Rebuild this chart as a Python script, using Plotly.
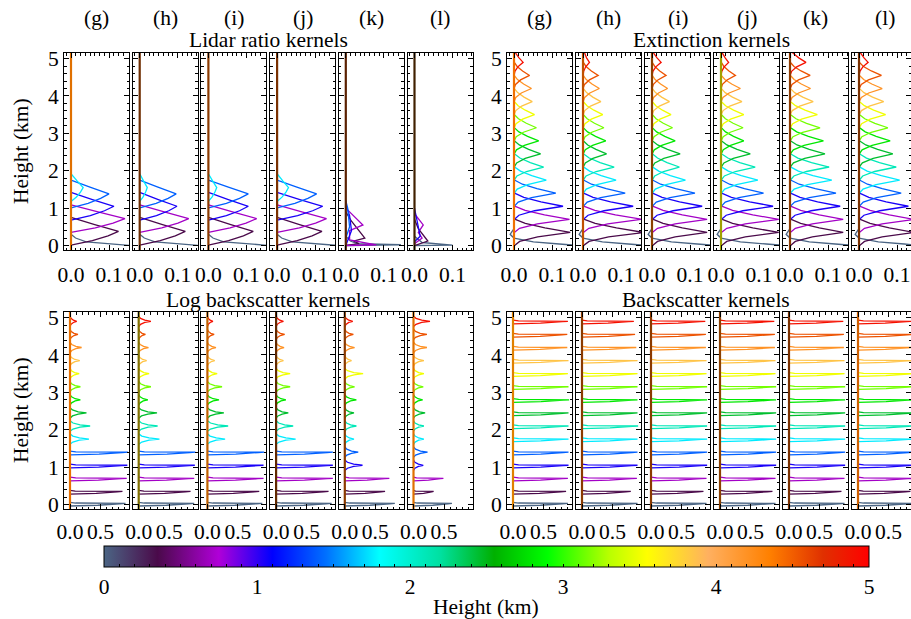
import plotly.graph_objects as go
from plotly.colors import sample_colorscale

# ---------------- data ----------------
HEIGHTS = [0.0, 0.35, 0.7, 1.05, 1.4, 1.75, 2.1, 2.45, 2.8, 3.15, 3.5, 3.85, 4.2, 4.55, 4.9]
PANEL_LABELS = ["(g)", "(h)", "(i)", "(j)", "(k)", "(l)"]
GROUP_TITLES = ["Lidar ratio kernels", "Extinction kernels",
                "Log backscatter kernels", "Backscatter kernels"]
Y_TICKS = [0, 1, 2, 3, 4, 5]
CB_TICKS = [0, 1, 2, 3, 4, 5]

COLORSCALE = [
    [0.00, "#4b6584"], [0.07, "#4a0a4a"], [0.15, "#b000d8"], [0.22, "#0000ff"],
    [0.29, "#0070ff"], [0.36, "#00ffff"], [0.44, "#00e0a0"], [0.51, "#00b000"],
    [0.58, "#00ff00"], [0.66, "#b8ff00"], [0.71, "#ffff00"], [0.79, "#ffb060"],
    [0.87, "#ff8000"], [0.94, "#e03000"], [1.00, "#ff0000"],
]

# Lidar ratio kernels: peak values (only the lowest kernels are non-zero)
LIDAR_PEAK_H = [0.0, 0.38, 0.72, 1.05, 1.38, 1.55]
LIDAR_PEAKS = {
    "(g)": [0.16, 0.125, 0.142, 0.113, 0.100, 0.032],
    "(h)": [0.16, 0.120, 0.129, 0.098, 0.096, 0.020],
    "(i)": [0.16, 0.118, 0.127, 0.105, 0.105, 0.022],
    "(j)": [0.16, 0.118, 0.130, 0.120, 0.104, 0.030],
}
# (k) and (l) lidar ratio kernels read as polylines: (kernel index, values, heights)
LIDAR_K_CURVES = [
    (0, [0.0, 0.012, 0.03, 0.145, 0.0], [0.25, 0.12, 0.05, 0.02, 0.0]),
    (1, [0.0, 0.015, 0.05, 0.02, 0.035, 0.0], [0.9, 0.65, 0.2, 0.12, 0.05, 0.0]),
    (2, [0.0, 0.02, 0.045, 0.01, 0.01, 0.08, 0.0], [1.0, 0.8, 0.55, 0.4, 0.15, 0.02, 0.0]),
    (3, [0.0, 0.01, 0.015, 0.005, 0.0], [1.1, 0.8, 0.4, 0.1, 0.0]),
    (4, [0.0, 0.005, 0.01, 0.0], [1.2, 1.0, 0.5, 0.2]),
]
LIDAR_L_CURVES = [
    (0, [0.0, 0.02, 0.1, 0.0], [0.25, 0.08, 0.01, 0.0]),
    (1, [0.0, 0.01, 0.035, 0.005, 0.0], [0.7, 0.45, 0.12, 0.02, 0.0]),
    (2, [0.0, 0.023, 0.01, 0.02, 0.0], [0.85, 0.55, 0.35, 0.2, 0.05]),
    (3, [0.0, 0.008, 0.015, 0.0], [1.0, 0.6, 0.25, 0.1]),
]

EXT_PEAKS = {
    "(g)": [0.17, 0.148, 0.146, 0.129, 0.110, 0.085, 0.078, 0.070, 0.065, 0.059, 0.054, 0.048, 0.046, 0.041, 0.024],
    "(h)": [0.17, 0.160, 0.155, 0.132, 0.111, 0.087, 0.082, 0.062, 0.060, 0.055, 0.052, 0.047, 0.043, 0.040, 0.017],
    "(i)": [0.17, 0.145, 0.145, 0.132, 0.113, 0.088, 0.072, 0.074, 0.061, 0.054, 0.050, 0.046, 0.041, 0.037, 0.024],
    "(j)": [0.17, 0.152, 0.152, 0.137, 0.112, 0.097, 0.090, 0.077, 0.060, 0.058, 0.060, 0.055, 0.051, 0.038, 0.020],
    "(k)": [0.17, 0.140, 0.140, 0.132, 0.121, 0.110, 0.103, 0.092, 0.088, 0.079, 0.072, 0.061, 0.054, 0.053, 0.042],
    "(l)": [0.17, 0.145, 0.145, 0.130, 0.111, 0.107, 0.098, 0.089, 0.082, 0.076, 0.070, 0.065, 0.061, 0.059, 0.024],
}

LOGBS_PEAKS = {
    "(g)": [0.91, 0.86, 0.93, 0.94, 0.95, 0.31, 0.33, 0.27, 0.17, 0.17, 0.15, 0.16, 0.19, 0.13, 0.11],
    "(h)": [0.91, 0.85, 0.91, 0.92, 0.93, 0.34, 0.31, 0.30, 0.15, 0.20, 0.17, 0.13, 0.16, 0.11, 0.20],
    "(i)": [0.90, 0.85, 0.92, 0.92, 0.93, 0.29, 0.34, 0.27, 0.19, 0.24, 0.16, 0.12, 0.14, 0.11, 0.09],
    "(j)": [0.91, 0.86, 0.93, 0.93, 0.93, 0.32, 0.28, 0.20, 0.16, 0.23, 0.23, 0.12, 0.13, 0.14, 0.12],
    "(k)": [0.82, 0.66, 0.73, 0.29, 0.22, 0.15, 0.19, 0.15, 0.19, 0.16, 0.30, 0.11, 0.16, 0.14, 0.13],
    "(l)": [0.63, 0.33, 0.49, 0.16, 0.23, 0.17, 0.17, 0.19, 0.15, 0.16, 0.17, 0.17, 0.22, 0.22, 0.27],
}
LOGBS_N_SPIKES = {"(g)": 5, "(h)": 5, "(i)": 5, "(j)": 5, "(k)": 3, "(l)": 3}

BS_PEAKS = {
    "(g)": [0.90, 0.87, 0.90, 0.91, 0.91, 0.91, 0.91, 0.91, 0.92, 0.91, 0.90, 0.91, 0.89, 0.89, 0.90],
    "(h)": [0.91, 0.80, 0.90, 0.91, 0.91, 0.91, 0.92, 0.91, 0.91, 0.91, 0.91, 0.91, 0.89, 0.87, 0.85],
    "(i)": [0.91, 0.86, 0.91, 0.92, 0.92, 0.92, 0.92, 0.92, 0.92, 0.92, 0.91, 0.91, 0.90, 0.90, 0.89],
    "(j)": [0.91, 0.86, 0.91, 0.92, 0.92, 0.92, 0.92, 0.92, 0.92, 0.92, 0.91, 0.91, 0.90, 0.90, 0.89],
    "(k)": [0.91, 0.86, 0.91, 0.92, 0.92, 0.92, 0.92, 0.92, 0.92, 0.92, 0.91, 0.91, 0.90, 0.90, 0.89],
    "(l)": [0.91, 0.86, 0.91, 0.92, 0.92, 0.92, 0.92, 0.92, 0.92, 0.92, 0.91, 0.91, 0.90, 0.90, 0.89],
}

# kernel shape templates (height offset in km, fraction of peak)
LIDAR_DH = [-0.37, -0.25, -0.12, 0.0, 0.18, 0.37]
LIDAR_F = [0.0, 0.45, 0.78, 1.0, 0.5, 0.0]
LIDAR_BASE_H = [0.30, 0.20, 0.10, 0.0]
LIDAR_BASE_F = [0.0, 0.075, 0.25, 1.0]
EXT_DH = [-0.36, -0.24, -0.12, 0.0, 0.12, 0.24, 0.36]
EXT_F = [0.0, 0.1, 0.42, 1.0, 0.55, 0.2, 0.0]
EXT_BASE_H = [0.45, 0.30, 0.20, 0.10, 0.04, 0.0]
EXT_BASE_F = [0.0, -0.06, 0.0, 0.3, 0.7, 1.0]
SPIKE_DH = [-0.07, -0.05, -0.01, 0.0, 0.01, 0.03]
SPIKE_F = [0.0, 0.5, 0.9, 1.0, 0.1, 0.0]
BUMP_DH = [-0.14, -0.08, -0.03, 0.0, 0.03, 0.08, 0.14]
BUMP_F = [0.0, 0.15, 0.5, 1.0, 0.5, 0.15, 0.0]

ZERO_COLORS = [
    "#e07000", "#6e2c00", "#8b3a00", "#7a3000", "#5a2000", "#402000",
    "#f07000", "#c05000", "#8b4000", "#a0a000", "#8b3a00", "#7a3000",
    "#e87000", "#807000", "#c06000", "#602800", "#8b3a00", "#e07000",
    "#e08000", "#8b3a00", "#8b3a00", "#8b4000", "#7a3000", "#d06000",
]

# ---------------- layout geometry (pixels) ----------------
W, H = 911, 619
FONT = dict(family="Liberation Serif, Times New Roman, DejaVu Serif, serif",
            size=21.5, color="black")
LEFTS = [[64 + 68.7 * i for i in range(6)], [507 + 69 * i for i in range(6)]]
PANEL_W = 65
ROW_Y = [(53, 250), (312, 509)]
Y_RANGE = [-0.12, 5.15]
X_ZERO_OFF = [7, 6]        # px from left frame to x=0
X_SCALE = [380.0, 61.0]    # px per unit
X_STANDOFF = [5, 3]

KCOLORS = sample_colorscale(COLORSCALE, [h / 5 for h in HEIGHTS])

fig = go.Figure()
layout = dict(
    width=W, height=H, margin=dict(l=0, r=0, t=0, b=0, pad=0, autoexpand=False),
    paper_bgcolor="white", plot_bgcolor="white", showlegend=False,
    font=FONT,
)


def ax_names(n):
    return ("x" if n == 1 else f"x{n}"), ("y" if n == 1 else f"y{n}")


def add_line(n, xs, ys, color, width=1.3):
    xa, ya = ax_names(n)
    fig.add_trace(go.Scatter(x=xs, y=ys, mode="lines", xaxis=xa, yaxis=ya,
                             line=dict(color=color, width=width),
                             hoverinfo="skip"))


def template(peak, h, dh, f):
    return [peak * v for v in f], [h + d for d in dh]


annotations = []
for g in range(4):
    row = g // 2
    side = g % 2
    y0, y1 = ROW_Y[row]
    for c in range(6):
        n = g * 6 + c + 1
        lab = PANEL_LABELS[c]
        left = LEFTS[side][c]
        right = min(left + PANEL_W, W)
        off, sc = X_ZERO_OFF[row], X_SCALE[row]
        xr = [-off / sc, (right - left - off) / sc]
        xa, ya = ax_names(n)
        xkey = "xaxis" if n == 1 else f"xaxis{n}"
        ykey = "yaxis" if n == 1 else f"yaxis{n}"
        if row == 0:
            xt, xtt, mdt = [0, 0.1], ["0.0", "0.1"], 0.0125
        else:
            xt, xtt, mdt = [0, 0.5], ["0.0", "0.5"], 0.1
        layout[xkey] = dict(
            domain=[left / W, right / W], range=xr, anchor=ya,
            showline=True, linecolor="black", linewidth=1, mirror="ticks",
            ticks="inside", ticklen=5, tickcolor="black",
            tickvals=xt, ticktext=xtt, tickfont=FONT, ticklabelstandoff=X_STANDOFF[row],
            showgrid=False, zeroline=False, automargin=False,
            minor=dict(ticks="inside", ticklen=2.5, dtick=mdt, tick0=0,
                       tickcolor="black", showgrid=False),
        )
        layout[ykey] = dict(
            domain=[1 - y1 / H, 1 - y0 / H], range=Y_RANGE, anchor=xa,
            showline=True, linecolor="black", linewidth=1, mirror="ticks",
            ticks="inside", ticklen=5, tickcolor="black",
            tickvals=Y_TICKS, ticktext=[str(v) for v in Y_TICKS],
            showticklabels=(c == 0), tickfont=FONT,
            showgrid=False, zeroline=False, automargin=False,
            minor=dict(ticks="inside", ticklen=2.5, dtick=0.2, tick0=0,
                       tickcolor="black", showgrid=False),
        )

        # ---- kernels ----
        if g == 0:
            if lab in LIDAR_PEAKS:
                pk = LIDAR_PEAKS[lab]
                add_line(n, [pk[0] * f for f in LIDAR_BASE_F], LIDAR_BASE_H, KCOLORS[0])
                for k in range(1, len(pk)):
                    xs, ys = template(pk[k], LIDAR_PEAK_H[k], LIDAR_DH, LIDAR_F)
                    add_line(n, xs, ys, KCOLORS[k])
            else:
                curves = LIDAR_K_CURVES if lab == "(k)" else LIDAR_L_CURVES
                for k, xs, ys in curves:
                    add_line(n, xs, ys, KCOLORS[k])
        elif g == 1:
            pk = EXT_PEAKS[lab]
            add_line(n, [pk[0] * f for f in EXT_BASE_F], EXT_BASE_H, KCOLORS[0])
            for k in range(1, 15):
                xs, ys = template(pk[k], HEIGHTS[k], EXT_DH, EXT_F)
                add_line(n, xs, ys, KCOLORS[k])
        elif g == 2:
            pk = LOGBS_PEAKS[lab]
            ns = LOGBS_N_SPIKES[lab]
            for k in range(15):
                hk = HEIGHTS[k] + (0.03 if k == 0 else 0.0)
                if k < ns:
                    xs, ys = template(pk[k], hk, SPIKE_DH, SPIKE_F)
                else:
                    xs, ys = template(pk[k], hk, BUMP_DH, BUMP_F)
                add_line(n, xs, ys, KCOLORS[k])
        else:
            pk = BS_PEAKS[lab]
            for k in range(15):
                hk = HEIGHTS[k] + (0.03 if k == 0 else 0.0)
                xs, ys = template(pk[k], hk, SPIKE_DH, SPIKE_F)
                add_line(n, xs, ys, KCOLORS[k])

        # zero line where all kernels overlap
        add_line(n, [0, 0], Y_RANGE, ZERO_COLORS[n - 1], width=2.2)

        if row == 0:
            annotations.append(dict(text=lab, x=(left + PANEL_W / 2) / W, y=1 - 18 / H,
                                    xref="paper", yref="paper", showarrow=False,
                                    font=FONT, xanchor="center", yanchor="middle"))

TITLE_POS = [(268, 40), (711, 40), (268, 300), (706, 300)]
for t, (tx, ty) in zip(GROUP_TITLES, TITLE_POS):
    annotations.append(dict(text=t, x=tx / W, y=1 - ty / H, xref="paper", yref="paper",
                            showarrow=False, font=FONT, xanchor="center", yanchor="middle"))
for ty in (151, 410):
    annotations.append(dict(text="Height (km)", x=21 / W, y=1 - ty / H, xref="paper",
                            yref="paper", showarrow=False, font=FONT, textangle=-90,
                            xanchor="center", yanchor="middle"))
annotations.append(dict(text="Height (km)", x=486.5 / W, y=1 - 607 / H, xref="paper",
                        yref="paper", showarrow=False, font=FONT,
                        xanchor="center", yanchor="middle"))

# colorbar via a hidden marker
cb_vals = [i / 10 for i in range(51)]
cb_text = [str(int(v)) if abs(v - round(v)) < 1e-9 else "" for v in cb_vals]
fig.add_trace(go.Scatter(
    x=[-1], y=[-1], mode="markers", xaxis="x", yaxis="y", hoverinfo="skip",
    marker=dict(size=1, color=[0], cmin=0, cmax=5, colorscale=COLORSCALE,
                showscale=True,
                colorbar=dict(orientation="h", x=486.5 / W, xanchor="center",
                              y=1 - 546 / H, yanchor="top", len=765 / W,
                              lenmode="fraction", thickness=21, thicknessmode="pixels",
                              outlinewidth=1, outlinecolor="black", xpad=0, ypad=0,
                              tickmode="array", tickvals=cb_vals, ticktext=cb_text,
                              ticks="inside", ticklen=3, tickcolor="black",
                              tickfont=FONT)),
))

layout["annotations"] = annotations
fig.update_layout(**layout)
fig.write_html("out.html")
